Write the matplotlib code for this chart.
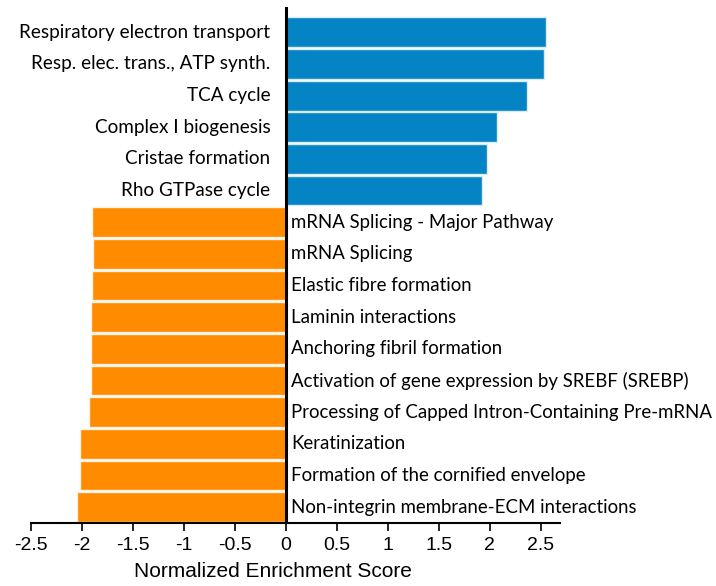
import numpy as np
from matplotlib import pyplot as plt

# pathway names, top to bottom
up_terms = ['Respiratory electron transport', 'Resp. elec. trans., ATP synth.',
            'TCA cycle', 'Complex I biogenesis', 'Cristae formation',
            'Rho GTPase cycle']
up_nes = [2.55, 2.53, 2.37, 2.07, 1.97, 1.93]

down_terms = ['mRNA Splicing - Major Pathway', 'mRNA Splicing',
              'Elastic fibre formation', 'Laminin interactions',
              'Anchoring fibril formation',
              'Activation of gene expression by SREBF (SREBP)',
              'Processing of Capped Intron-Containing Pre-mRNA',
              'Keratinization', 'Formation of the cornified envelope',
              'Non-integrin membrane-ECM interactions']
down_nes = [-1.90, -1.89, -1.90, -1.91, -1.91, -1.91, -1.93, -2.02, -2.02, -2.05]

xticks = [-2.5, -2, -1.5, -1, -0.5, 0, 0.5, 1, 1.5, 2, 2.5]
xtick_labels = ['-2.5', '-2', '-1.5', '-1', '-0.5', '0', '0.5', '1', '1.5', '2', '2.5']

label_font = ['Lato', 'DejaVu Sans']
num_font = ['Liberation Sans Narrow', 'Liberation Sans', 'DejaVu Sans']

fig = plt.figure(figsize=(7.16, 5.86), dpi=100)
ax = fig.add_axes([30.7/716, 63/586, (560-30.7)/716, (579-63)/586])

n_up = len(up_nes)
y_up = np.arange(n_up)
y_down = np.arange(n_up, n_up + len(down_nes))

ax.barh(y_up, up_nes, height=0.94, color='#0484c4', edgecolor='#d8ecf6', linewidth=1.0)
ax.barh(y_down, down_nes, height=0.94, color='#fe8b00', edgecolor='#fff1e0', linewidth=1.0)

for y, name in zip(y_up, up_terms):
    ax.text(-0.15, y, name, ha='right', va='center', fontsize=13.6, family=label_font)
for y, name in zip(y_down, down_terms):
    ax.text(0.05, y, name, ha='left', va='center', fontsize=13.4, family=label_font)

ax.axvline(0, color='black', linewidth=2.2, zorder=5)

ax.set_xlim(-2.5, 2.69)
ax.set_ylim(15.5, -0.8)
ax.set_xticks(xticks)
ax.set_xticklabels(xtick_labels, fontsize=14, family=num_font)
ax.set_yticks([])
ax.tick_params(axis='x', direction='out', length=6, width=1.2, pad=4)
ax.set_xlabel('Normalized Enrichment Score', fontsize=15, family=num_font)
ax.xaxis.set_label_coords((273 - 30.7) / (560 - 30.7), -0.075)

for side in ['top', 'right', 'left']:
    ax.spines[side].set_visible(False)
ax.spines['bottom'].set_linewidth(1.5)

fig.savefig('out.png', dpi=100)
